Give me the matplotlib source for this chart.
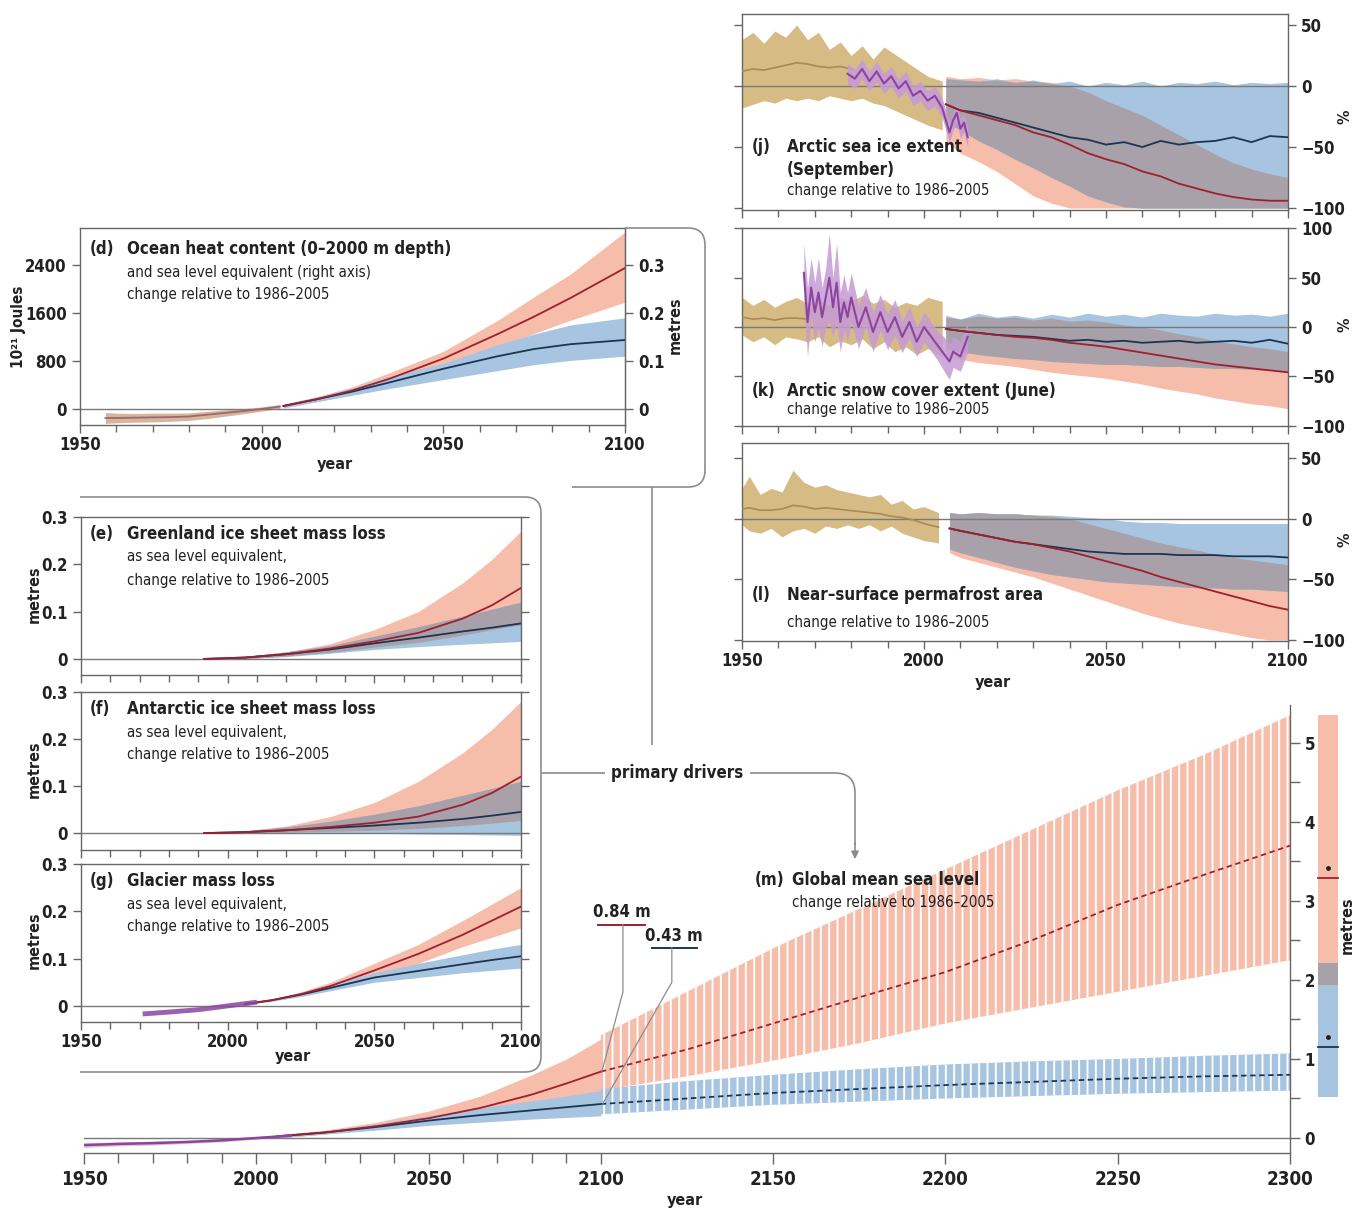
import numpy as np
import matplotlib.pyplot as plt
from matplotlib import font_manager
from matplotlib.path import Path
from matplotlib.patches import PathPatch, FancyArrowPatch
from matplotlib.ticker import MultipleLocator

# ---------------- data ----------------
# (d) ocean heat content (10^21 J)
ohc_obs_years = [1957, 1960, 1965, 1970, 1975, 1980, 1985, 1990, 1995, 2000, 2005]
ohc_obs = [-150, -150, -145, -140, -135, -125, -95, -65, -35, 0, 40]
ohc_obs_lo = [-240, -230, -220, -215, -205, -190, -160, -120, -80, -35, 5]
ohc_obs_hi = [-60, -70, -75, -70, -70, -65, -40, -15, 5, 35, 75]
ohc_years = [2006, 2015, 2025, 2035, 2050, 2065, 2075, 2085, 2100]
ohc_r85 = [50, 160, 310, 500, 840, 1250, 1540, 1850, 2350]
ohc_r85_lo = [20, 120, 250, 400, 700, 1020, 1260, 1480, 1780]
ohc_r85_hi = [80, 200, 370, 600, 960, 1480, 1870, 2250, 2950]
ohc_r26 = [50, 160, 290, 440, 670, 880, 1000, 1080, 1150]
ohc_r26_lo = [20, 120, 230, 340, 490, 640, 740, 810, 880]
ohc_r26_hi = [80, 200, 350, 540, 760, 1070, 1250, 1400, 1520]

# (e) Greenland, (f) Antarctic, (g) glaciers (m sea level equivalent)
ice_years = [1992, 2006, 2020, 2035, 2050, 2065, 2080, 2090, 2100]
gis_r85 = [0, 0.003, 0.01, 0.022, 0.037, 0.055, 0.085, 0.113, 0.15]
gis_r85_lo = [0, 0.001, 0.006, 0.014, 0.025, 0.035, 0.05, 0.062, 0.072]
gis_r85_hi = [0, 0.005, 0.015, 0.032, 0.062, 0.1, 0.16, 0.21, 0.27]
gis_r26 = [0, 0.003, 0.01, 0.02, 0.033, 0.045, 0.058, 0.066, 0.075]
gis_r26_lo = [0, 0.001, 0.005, 0.012, 0.02, 0.026, 0.031, 0.034, 0.037]
gis_r26_hi = [0, 0.005, 0.015, 0.028, 0.048, 0.068, 0.09, 0.105, 0.12]

ais_r85 = [0, 0.002, 0.006, 0.013, 0.022, 0.035, 0.06, 0.085, 0.12]
ais_r85_lo = [0, 0.0, 0.002, 0.004, 0.006, 0.01, 0.016, 0.021, 0.027]
ais_r85_hi = [0, 0.005, 0.015, 0.035, 0.065, 0.11, 0.17, 0.22, 0.28]
ais_r26 = [0, 0.002, 0.006, 0.011, 0.016, 0.022, 0.03, 0.037, 0.045]
ais_r26_lo = [0, 0.0, 0.0, 0.0, 0.0, -0.002, -0.003, -0.004, -0.005]
ais_r26_hi = [0, 0.005, 0.013, 0.025, 0.04, 0.058, 0.08, 0.095, 0.11]

gla_obs_years = [1971, 1980, 1990, 2000, 2010]
gla_obs = [-0.017, -0.013, -0.008, 0.0, 0.008]
gla_years = [2006, 2015, 2025, 2035, 2050, 2065, 2080, 2090, 2100]
gla_r85 = [0.004, 0.012, 0.025, 0.042, 0.075, 0.11, 0.15, 0.18, 0.21]
gla_r85_lo = [0.003, 0.01, 0.021, 0.035, 0.065, 0.09, 0.125, 0.145, 0.165]
gla_r85_hi = [0.005, 0.014, 0.03, 0.05, 0.09, 0.13, 0.18, 0.215, 0.25]
gla_r26 = [0.004, 0.012, 0.024, 0.038, 0.06, 0.074, 0.088, 0.097, 0.105]
gla_r26_lo = [0.003, 0.01, 0.02, 0.032, 0.05, 0.06, 0.07, 0.075, 0.08]
gla_r26_hi = [0.005, 0.014, 0.028, 0.045, 0.07, 0.09, 0.108, 0.12, 0.13]

# (j) Arctic sea ice extent, September (%)
hist_years = [1950, 1953, 1956, 1959, 1962, 1965, 1968, 1971, 1974, 1977,
              1980, 1983, 1986, 1989, 1992, 1995, 1998, 2001, 2005]
sie_hist_hi = [38, 44, 35, 45, 40, 50, 38, 44, 30, 36, 25, 33, 22, 32, 26, 20, 14, 8, 4]
sie_hist_lo = [-18, -15, -12, -14, -10, -12, -10, -12, -8, -10, -12, -10, -14, -16, -20, -24, -28, -32, -36]
sie_hist_mean_years = [1950, 1953, 1956, 1959, 1962, 1965, 1968, 1971, 1974, 1977, 1980]
sie_hist_mean = [12, 14, 13, 15, 17, 19, 18, 16, 15, 16, 14]
sie_obs_years = [1979, 1981, 1983, 1985, 1987, 1989, 1991, 1993, 1995, 1997,
                 1999, 2001, 2003, 2005, 2007, 2008, 2009, 2010, 2011, 2012]
sie_obs = [10, 6, 14, 4, 12, 2, 8, -2, 4, -8, -4, -12, -8, -18, -38, -28, -22, -35, -30, -42]
proj_years = [2006, 2010, 2015, 2020, 2025, 2030, 2035, 2040, 2045, 2050,
              2055, 2060, 2065, 2070, 2075, 2080, 2085, 2090, 2095, 2100]
sie_r26 = [-15, -20, -22, -26, -30, -34, -38, -42, -44, -48, -46, -50, -45, -48, -46, -45, -42, -46, -41, -42]
sie_r85 = [-15, -20, -24, -28, -32, -38, -42, -48, -55, -60, -64, -70, -74, -80, -84, -88, -91, -93, -94, -94]
sie_r26_hi = [6, 5, 4, 6, 3, 5, 2, 4, 0, 3, 1, 4, 0, 3, 2, 4, 1, 3, 2, 3]
sie_r26_lo = [-30, -36, -45, -52, -60, -67, -75, -82, -90, -95, -99, -100, -100, -100, -100, -100, -100, -100, -100, -100]
sie_r85_hi = [8, 6, 7, 5, 6, 4, 3, 0, -5, -12, -18, -24, -32, -40, -48, -56, -63, -68, -72, -75]
sie_r85_lo = [-45, -55, -62, -70, -80, -90, -96, -100, -100, -100, -100, -100, -100, -100, -100, -100, -100, -100, -100, -100]

# (k) Arctic snow cover extent, June (%)
snow_hist_hi = [30, 22, 28, 20, 26, 30, 24, 28, 22, 30, 26, 32, 24, 28, 20, 25, 22, 30, 26]
snow_hist_lo = [-8, -15, -10, -18, -10, -12, -15, -10, -20, -14, -18, -12, -22, -15, -25, -20, -28, -22, -30]
snow_hist_mean_years = [1950, 1953, 1956, 1959, 1962, 1965, 1968]
snow_hist_mean = [10, 8, 9, 7, 9, 9, 8]
snow_obs_years = [1967, 1968, 1969, 1970, 1971, 1972, 1973, 1974, 1975, 1976, 1977, 1978,
                  1979, 1980, 1982, 1984, 1986, 1988, 1990, 1992, 1994, 1996, 1998, 2000,
                  2002, 2004, 2006, 2007, 2008, 2010, 2012]
snow_obs = [55, 5, 40, 15, 35, 10, 30, 50, 20, 45, 5, 25, 10, 30, 0, 20, -5, 15, -5, 10,
            -10, 5, -15, 0, -10, -20, -30, -35, -25, -30, -10]
snow_obs_spread = [30, 35, 30, 30, 35, 30, 30, 45, 30, 40, 30, 28, 25, 25, 22, 20, 20, 18, 18, 18,
                   16, 16, 15, 15, 15, 15, 18, 18, 16, 15, 15]
snow_r26 = [-2, -4, -6, -8, -9, -10, -12, -14, -13, -15, -14, -16, -15, -14, -16, -15, -14, -16, -13, -17]
snow_r85 = [-2, -4, -6, -8, -10, -11, -13, -16, -18, -20, -23, -26, -29, -32, -35, -38, -40, -42, -44, -46]
snow_r26_hi = [12, 8, 14, 10, 12, 9, 13, 10, 14, 11, 13, 10, 14, 12, 11, 14, 12, 13, 11, 14]
snow_r26_lo = [-22, -25, -28, -30, -32, -33, -35, -36, -37, -38, -38, -39, -40, -40, -41, -42, -42, -43, -44, -45]
snow_r85_hi = [10, 8, 11, 9, 10, 7, 9, 6, 7, 5, 2, 0, -3, -7, -10, -14, -17, -20, -22, -25]
snow_r85_lo = [-30, -33, -36, -38, -40, -43, -46, -48, -50, -52, -55, -58, -62, -65, -68, -72, -75, -78, -80, -83]

# (l) near-surface permafrost area (%)
perm_hist_years = [1950, 1952, 1955, 1958, 1961, 1964, 1967, 1970, 1973, 1976,
                   1979, 1982, 1985, 1988, 1991, 1994, 1997, 2000, 2004]
perm_hist_hi = [25, 35, 20, 25, 22, 40, 30, 26, 28, 24, 22, 20, 18, 20, 12, 15, 8, 10, 5]
perm_hist_lo = [-5, -10, -12, -8, -15, -10, -8, -12, -6, -8, -5, -8, -5, -10, -6, -12, -15, -18, -20]
perm_hist_mean = [8, 9, 7, 7, 8, 11, 10, 8, 9, 8, 7, 6, 5, 4, 2, 1, -1, -4, -7]
perm_years = [2007, 2010, 2015, 2020, 2025, 2030, 2035, 2040, 2045, 2050,
              2055, 2060, 2065, 2070, 2075, 2080, 2085, 2090, 2095, 2100]
perm_r26 = [-8, -10, -13, -16, -19, -21, -23, -25, -27, -28, -29, -29, -29, -30, -30, -30, -31, -31, -31, -32]
perm_r85 = [-8, -10, -13, -16, -19, -21, -24, -27, -31, -35, -39, -43, -48, -52, -56, -60, -64, -68, -72, -75]
perm_r26_hi = [5, 4, 5, 4, 4, 3, 3, 2, 1, 0, -2, -3, -3, -4, -4, -4, -4, -4, -4, -4]
perm_r26_lo = [-25, -28, -32, -36, -40, -43, -46, -48, -50, -52, -53, -54, -55, -56, -57, -57, -58, -58, -59, -60]
perm_r85_hi = [5, 4, 5, 4, 4, 3, 2, 0, -4, -8, -12, -16, -20, -23, -26, -29, -32, -34, -36, -38]
perm_r85_lo = [-28, -32, -36, -40, -44, -48, -53, -58, -63, -68, -73, -78, -82, -86, -89, -92, -95, -98, -100, -100]

# (m) global mean sea level (m)
gmsl_obs_years = [1950, 1960, 1970, 1980, 1990, 2000, 2010]
gmsl_obs = [-0.09, -0.075, -0.065, -0.05, -0.03, 0.0, 0.03]
gmsl_obs_lo = [-0.12, -0.1, -0.09, -0.07, -0.05, -0.015, 0.015]
gmsl_obs_hi = [-0.06, -0.05, -0.04, -0.03, -0.01, 0.015, 0.045]
gmsl_years = [2006, 2020, 2035, 2050, 2065, 2080, 2090, 2100]
gmsl_r85 = [0.02, 0.07, 0.15, 0.25, 0.38, 0.55, 0.69, 0.84]
gmsl_r85_lo = [0.0, 0.05, 0.11, 0.19, 0.29, 0.41, 0.5, 0.58]
gmsl_r85_hi = [0.04, 0.1, 0.2, 0.34, 0.53, 0.8, 1.0, 1.25]
gmsl_r26 = [0.02, 0.07, 0.14, 0.22, 0.29, 0.35, 0.39, 0.43]
gmsl_r26_lo = [0.0, 0.05, 0.1, 0.16, 0.2, 0.24, 0.26, 0.28]
gmsl_r26_hi = [0.04, 0.09, 0.18, 0.28, 0.38, 0.47, 0.53, 0.6]
ext_years = [2100, 2125, 2150, 2175, 2200, 2225, 2250, 2275, 2300]
ext_r85 = [0.84, 1.12, 1.45, 1.78, 2.1, 2.5, 2.95, 3.33, 3.7]
ext_r85_lo = [0.6, 0.78, 0.98, 1.2, 1.45, 1.65, 1.85, 2.05, 2.25]
ext_r85_hi = [1.3, 1.85, 2.4, 2.9, 3.4, 3.9, 4.4, 4.85, 5.35]
ext_r26 = [0.43, 0.5, 0.57, 0.62, 0.67, 0.71, 0.75, 0.78, 0.8]
ext_r26_lo = [0.3, 0.36, 0.42, 0.46, 0.5, 0.53, 0.56, 0.58, 0.6]
ext_r26_hi = [0.62, 0.72, 0.8, 0.87, 0.93, 0.97, 1.0, 1.04, 1.07]
bar2300_r85 = (1.94, 5.35, 3.29)   # low, high, median
bar2300_r26 = (0.52, 2.22, 1.15)
label_r85 = "0.84 m"
label_r26 = "0.43 m"

# ---------------- style ----------------
PINK = "#f6bdab"
BLUE = "#a7c4e0"
GRAY = "#a8a1aa"
RED = "#a01f2f"
NAVY = "#1c3553"
PURPLE = "#8b45a0"
PURPLE_BAND = "#c69bd4"
TAN = "#d6bb85"
TAN_LINE = "#a98a55"
FRAME = "#666666"
CONN = "#8c8c8c"
TXT = "#222222"

# prefer a condensed face (the original uses one); otherwise a narrow-ish sans
fonts = font_manager.fontManager.ttflist
narrow = [f for f in fonts if "Mono" not in f.name and
          ("Narrow" in f.name or "Condensed" in f.name or
           f.stretch in ("condensed", "semi-condensed", "extra-condensed"))]
if narrow:
    FAMILY, STRETCH, K = narrow[0].name, narrow[0].stretch, 1.0
else:
    FAMILY, STRETCH, K = "Liberation Sans", "normal", 0.9

plt.rcParams["font.family"] = [FAMILY, "DejaVu Sans"]
plt.rcParams["font.stretch"] = STRETCH
plt.rcParams["font.weight"] = "bold"
plt.rcParams["font.size"] = 12
plt.rcParams["hatch.linewidth"] = 1.4
plt.rcParams["text.color"] = TXT
plt.rcParams["xtick.color"] = FRAME
plt.rcParams["ytick.color"] = FRAME
plt.rcParams["xtick.labelcolor"] = TXT
plt.rcParams["ytick.labelcolor"] = TXT

FS_TICK = 12 * K
FS_HEAD = 12.2 * K
FS_SUB = 10.8 * K
FS_LAB = 11.5 * K

W, H = 1358, 1212
fig = plt.figure(figsize=(W / 100, H / 100), dpi=100)


def fxy(x, y):
    return (x / W, 1 - y / H)


def px_axes(l, t, r, b):
    return fig.add_axes([l / W, 1 - b / H, (r - l) / W, (b - t) / H], facecolor="none")


def style(ax, xlim, ylim, xlabels=False):
    ax.set_xlim(xlim)
    ax.set_ylim(ylim)
    for s in ax.spines.values():
        s.set_color(FRAME)
        s.set_linewidth(1)
    ax.xaxis.set_major_locator(MultipleLocator(50))
    ax.xaxis.set_minor_locator(MultipleLocator(10))
    ax.tick_params(which="both", direction="out", width=1, labelsize=FS_TICK)
    ax.tick_params(which="major", length=6)
    ax.tick_params(which="minor", length=5)
    ax.tick_params(axis="x", top=False, labelbottom=xlabels, pad=2)
    ax.axhline(0, color="#7a7a7a", lw=1, zorder=2)


def bands(ax, x, r_lo, r_hi, b_lo, b_hi, gray=True):
    ax.fill_between(x, r_lo, r_hi, color=PINK, lw=0, zorder=1)
    ax.fill_between(x, b_lo, b_hi, color=BLUE, lw=0, zorder=1)
    if gray:
        lo = np.maximum(r_lo, b_lo)
        hi = np.minimum(r_hi, b_hi)
        ax.fill_between(x, lo, hi, where=hi > lo, interpolate=True, color=GRAY, lw=0, zorder=1)


def medians(ax, x, r, b, lw=1.3):
    ax.plot(x, b, color=NAVY, lw=lw, zorder=4)
    ax.plot(x, r, color=RED, lw=lw, zorder=4)


def title(x, y, tag, head, subs, dx=37, dy=23):
    fig.text(*fxy(x, y), tag, fontsize=FS_HEAD, va="center")
    fig.text(*fxy(x + dx, y), head, fontsize=FS_HEAD, va="center")
    for i, s in enumerate(subs):
        fig.text(*fxy(x + dx, y + dy * (i + 1)), s, fontsize=FS_SUB, fontweight="normal", va="center")


def vlabel(x, y, s, size=None):
    fig.text(*fxy(x, y), s, rotation=90, ha="center", va="center", fontsize=size or FS_LAB)


rel = "change relative to 1986\u20132005"

# ---------------- (d) ocean heat content ----------------
axd = px_axes(80, 228, 625, 425)
style(axd, (1950, 2100), (-267, 3017), xlabels=True)
axd.set_yticks([0, 800, 1600, 2400])
axd.tick_params(axis="y", right=False)
axd.fill_between(ohc_obs_years, ohc_obs_lo, ohc_obs_hi, color="#d8b49a", lw=0, zorder=1)
axd.plot(ohc_obs_years, ohc_obs, color="#9a6a70", lw=1.3, zorder=3)
bands(axd, ohc_years, ohc_r85_lo, ohc_r85_hi, ohc_r26_lo, ohc_r26_hi, gray=False)
medians(axd, ohc_years, ohc_r85, ohc_r26)
axd2 = axd.twinx()
axd2.set_ylim(-0.0334, 0.3771)
axd2.set_yticks([0, 0.1, 0.2, 0.3])
axd2.set_yticklabels(["0", "0.1", "0.2", "0.3"])
axd2.tick_params(direction="out", length=6, width=1, labelsize=FS_TICK)
for s in axd2.spines.values():
    s.set_visible(False)
axd2.spines["right"].set_visible(True)
axd2.spines["right"].set_color(FRAME)
title(90, 249, "(d)", "Ocean heat content (0\u20132000 m depth)",
      ["and sea level equivalent (right axis)", rel])
vlabel(19, 327, "10\u00b2\u00b9 Joules", size=FS_LAB - 0.5)
vlabel(675, 325, "metres")
fig.text(*fxy(335, 465), "year", ha="center", va="center", fontsize=FS_LAB)

# ---------------- (e) (f) (g) ice and glaciers ----------------
ice_panels = [
    (517, 675, (-0.034, 0.3), "(e)", "Greenland ice sheet mass loss",
     gis_r85, gis_r85_lo, gis_r85_hi, gis_r26, gis_r26_lo, gis_r26_hi),
    (692, 850, (-0.036, 0.3), "(f)", "Antarctic ice sheet mass loss",
     ais_r85, ais_r85_lo, ais_r85_hi, ais_r26, ais_r26_lo, ais_r26_hi),
]
for t, b, yl, tag, head, r, rlo, rhi, bb, blo, bhi in ice_panels:
    ax = px_axes(81, t, 521, b)
    style(ax, (1950, 2100), yl)
    ax.set_yticks([0, 0.1, 0.2, 0.3])
    ax.set_yticklabels(["0", "0.1", "0.2", "0.3"])
    ax.tick_params(axis="y", left=True, right=True, labelleft=True, labelright=False)
    bands(ax, ice_years, rlo, rhi, blo, bhi)
    medians(ax, ice_years, r, bb)
    title(90, t + 17, tag, head, ["as sea level equivalent,", rel])
    vlabel(34, (t + b) / 2 - 2, "metres")

axg = px_axes(81, 864, 521, 1022)
style(axg, (1950, 2100), (-0.034, 0.3), xlabels=True)
axg.set_yticks([0, 0.1, 0.2, 0.3])
axg.set_yticklabels(["0", "0.1", "0.2", "0.3"])
axg.tick_params(axis="y", left=True, right=True, labelleft=True, labelright=False)
bands(axg, gla_years, gla_r85_lo, gla_r85_hi, gla_r26_lo, gla_r26_hi, gray=False)
medians(axg, gla_years, gla_r85, gla_r26)
axg.plot(gla_obs_years, gla_obs, color=PURPLE, lw=3.5, alpha=0.85, zorder=5, solid_capstyle="butt")
title(90, 881, "(g)", "Glacier mass loss", ["as sea level equivalent,", rel])
vlabel(34, 940, "metres")
fig.text(*fxy(293, 1056), "year", ha="center", va="center", fontsize=FS_LAB)

# ---------------- (j) (k) (l) Arctic ----------------
def arctic_axes(t, b, yl, yt):
    ax = px_axes(742, t, 1288, b)
    style(ax, (1950, 2100), yl, xlabels=(b > 600))
    ax.set_yticks(yt)
    ax.tick_params(axis="y", left=True, right=True, labelleft=False, labelright=True)
    return ax

axj = arctic_axes(14, 210, (-101.6, 59), [50, 0, -50, -100])
axj.fill_between(hist_years, sie_hist_lo, sie_hist_hi, color=TAN, lw=0, zorder=1)
axj.plot(sie_hist_mean_years, sie_hist_mean, color=TAN_LINE, lw=1.2, zorder=3)
bands(axj, proj_years, sie_r85_lo, sie_r85_hi, sie_r26_lo, sie_r26_hi)
medians(axj, proj_years, sie_r85, sie_r26)
axj.fill_between(sie_obs_years, np.array(sie_obs) - 8, np.array(sie_obs) + 8,
                 color=PURPLE_BAND, lw=0, alpha=0.9, zorder=3)
axj.plot(sie_obs_years, sie_obs, color=PURPLE, lw=1.5, zorder=5)
title(752, 147, "(j)", "Arctic sea ice extent", [], dx=35)
fig.text(*fxy(787, 170), "(September)", fontsize=FS_HEAD, va="center")
fig.text(*fxy(787, 191), rel, fontsize=FS_SUB, fontweight="normal", va="center")
vlabel(1345, 117, "%")

axk = arctic_axes(228, 426, (-100.5, 100.5), [100, 50, 0, -50, -100])
axk.fill_between(hist_years, snow_hist_lo, snow_hist_hi, color=TAN, lw=0, zorder=1)
axk.plot(snow_hist_mean_years, snow_hist_mean, color=TAN_LINE, lw=1.2, zorder=3)
bands(axk, proj_years, snow_r85_lo, snow_r85_hi, snow_r26_lo, snow_r26_hi)
medians(axk, proj_years, snow_r85, snow_r26)
so = np.array(snow_obs)
ss = np.array(snow_obs_spread)
axk.fill_between(snow_obs_years, so - ss, so + ss, color=PURPLE_BAND, lw=0, alpha=0.85, zorder=3)
axk.plot(snow_obs_years, snow_obs, color=PURPLE, lw=1.5, zorder=5)
title(752, 391, "(k)", "Arctic snow cover extent (June)", [rel], dx=35, dy=19)
vlabel(1345, 325, "%")

axl = arctic_axes(443, 641, (-100.8, 62.4), [50, 0, -50, -100])
axl.fill_between(perm_hist_years, perm_hist_lo, perm_hist_hi, color=TAN, lw=0, zorder=1)
axl.plot(perm_hist_years, perm_hist_mean, color=TAN_LINE, lw=1.2, zorder=3)
bands(axl, perm_years, perm_r85_lo, perm_r85_hi, perm_r26_lo, perm_r26_hi)
medians(axl, perm_years, perm_r85, perm_r26)
title(752, 595, "(l)", "Near\u2013surface permafrost area", [rel], dx=35, dy=27)
vlabel(1345, 540, "%")
fig.text(*fxy(993, 683), "year", ha="center", va="center", fontsize=FS_LAB)

# ---------------- (m) global mean sea level ----------------
axm = px_axes(84, 705, 1290, 1153)
style(axm, (1950, 2300), (-0.19, 5.48), xlabels=True)
axm.spines["left"].set_visible(False)
axm.spines["top"].set_visible(False)
axm.set_xticks(range(1950, 2101, 10), minor=True)
axm.tick_params(axis="x", which="major", length=8, labelsize=FS_TICK + 1.5, pad=4)
axm.tick_params(axis="x", which="minor", length=7)
axm.yaxis.tick_right()
axm.set_yticks(range(0, 6))
axm.yaxis.set_minor_locator(MultipleLocator(0.5))
axm.tick_params(axis="y", which="both", length=7, labelsize=FS_TICK)
axm.fill_between(gmsl_obs_years, gmsl_obs_lo, gmsl_obs_hi, color="#e6c2cf", lw=0, zorder=1)
bands(axm, gmsl_years, gmsl_r85_lo, gmsl_r85_hi, gmsl_r26_lo, gmsl_r26_hi, gray=False)
axm.fill_between(ext_years, ext_r85_lo, ext_r85_hi, facecolor=PINK, edgecolor="white",
                 hatch="||", lw=0, zorder=1)
axm.fill_between(ext_years, ext_r26_lo, ext_r26_hi, facecolor=BLUE, edgecolor="white",
                 hatch="||", lw=0, zorder=1)
medians(axm, gmsl_years, gmsl_r85, gmsl_r26)
axm.plot(ext_years, ext_r85, color=RED, lw=1.3, ls=(0, (3, 2)), zorder=4)
axm.plot(ext_years, ext_r26, color=NAVY, lw=1.3, ls=(0, (3, 2)), zorder=4)
axm.plot(gmsl_obs_years, gmsl_obs, color=PURPLE, lw=1.8, zorder=5)

# range bars at 2300
for (lo, hi, med), col in [(bar2300_r85, PINK), (bar2300_r26, BLUE)]:
    axm.bar(2311, hi - lo, bottom=lo, width=5.8, color=col, lw=0, clip_on=False, zorder=1)
ov_lo, ov_hi = bar2300_r85[0], bar2300_r26[1]
axm.bar(2311, ov_hi - ov_lo, bottom=ov_lo, width=5.8, color=GRAY, lw=0, clip_on=False, zorder=1)
for (lo, hi, med), col in [(bar2300_r85, RED), (bar2300_r26, NAVY)]:
    axm.plot([2308.1, 2313.9], [med, med], color=col, lw=1.3, clip_on=False, zorder=4)
    axm.plot(2311, med + 0.13, marker="o", ms=2.5, color="#222222", clip_on=False, zorder=4)
vlabel(1347, 925, "metres")

# 2100 value call-outs
axm.text(2106, 2.86, label_r85, ha="center", va="center", fontsize=FS_TICK)
axm.plot([2099.2, 2112.8], [2.70, 2.70], color=RED, lw=1.4, zorder=6)
axm.plot([2106.4, 2106.4, 2100.3], [2.70, 1.85, gmsl_r85[-1]], color=CONN, lw=0.9, zorder=6)
axm.text(2121.3, 2.56, label_r26, ha="center", va="center", fontsize=FS_TICK)
axm.plot([2114.8, 2127.9], [2.41, 2.41], color=NAVY, lw=1.4, zorder=6)
axm.plot([2120.6, 2120.6, 2100.5], [2.41, 1.97, gmsl_r26[-1]], color=CONN, lw=0.9, zorder=6)

fig.text(*fxy(755, 880), "(m)", fontsize=FS_HEAD, va="center")
fig.text(*fxy(792, 880), "Global mean sea level", fontsize=FS_HEAD, va="center")
fig.text(*fxy(792, 903), rel, fontsize=FS_SUB, fontweight="normal", va="center")
fig.text(*fxy(685, 1200), "year", ha="center", va="center", fontsize=FS_LAB)

# ---------------- connectors ----------------
M, L, C = Path.MOVETO, Path.LINETO, Path.CURVE3


def connector(pts, codes):
    verts = [fxy(x, y) for x, y in pts]
    fig.add_artist(PathPatch(Path(verts, codes), fill=False, edgecolor=CONN, lw=1.2,
                             transform=fig.transFigure))


connector([(625, 228), (688, 228), (705, 228), (705, 245), (705, 470), (705, 487), (688, 487), (572, 487)],
          [M, L, C, C, L, C, C, L])
connector([(80, 497), (525, 497), (541, 497), (541, 513), (541, 1056), (541, 1072), (525, 1072), (80, 1072)],
          [M, L, C, C, L, C, C, L])
connector([(652, 487), (652, 745)], [M, L])
connector([(541, 773), (605, 773)], [M, L])
connector([(750, 773), (835, 773), (855, 773), (855, 793), (855, 845)], [M, L, C, C, L])
fig.add_artist(FancyArrowPatch(fxy(855, 840), fxy(855, 862), transform=fig.transFigure,
                               arrowstyle="-|>", mutation_scale=11, color=CONN, lw=1.2))
fig.text(*fxy(677, 773), "primary drivers", ha="center", va="center", fontsize=FS_HEAD)

fig.savefig("out.png", dpi=100)
